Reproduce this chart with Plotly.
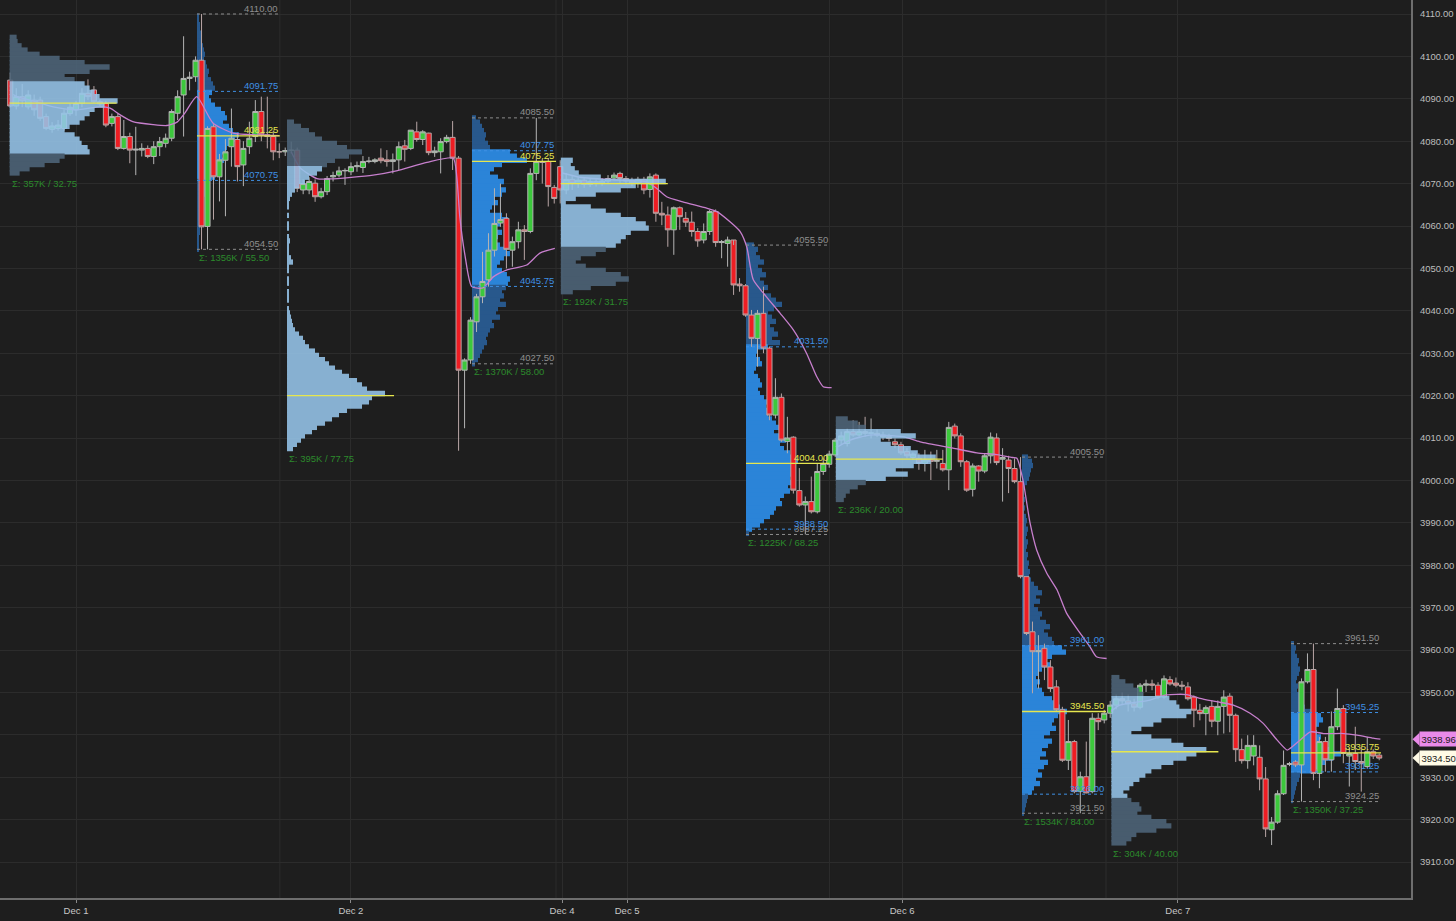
import plotly.graph_objects as go

# ---------------- price bars (30-minute bars, bar 0 = Dec 1 00:00) ----------------
first_bar = -11
opens = [4094.4, 4088.3, 4090.5, 4088.1, 4089.7, 4089.7, 4085.8, 4082.8, 4083.0, 4083.0, 4086.5,
         4087.4, 4088.9, 4091.3, 4092.1, 4089.3, 4088.9, 4084.2, 4085.8, 4078.3, 4081.1,
         4077.9, 4077.9, 4078.3, 4076.4, 4078.7, 4079.5, 4080.7, 4086.6, 4090.9, 4094.8,
         4095.2, 4099.1, 4059.9, 4083.4, 4071.6, 4075.5, 4078.7, 4080.4, 4074.4, 4078.7,
         4081.1, 4087.0, 4081.5, 4081.1, 4077.5, 4077.5, 4077.8, 4077.9, 4068.5, 4068.5,
         4070.1, 4066.9, 4068.1, 4071.6, 4072.0, 4073.0, 4072.8, 4074.0, 4073.8, 4075.2,
         4075.2, 4076.0, 4075.6, 4075.2, 4075.6, 4078.9, 4078.3, 4082.2, 4080.4, 4081.9,
         4077.3, 4077.5, 4079.9, 4080.9, 4076.0, 4026.0, 4028.4, 4037.4, 4043.3, 4047.3,
         4054.3, 4060.7, 4061.8, 4054.3, 4056.3, 4059.1, 4058.7, 4072.4, 4075.2, 4075.2,
         4069.1, 4074.0, 4068.5, 4071.0, 4070.0, 4070.8, 4069.8, 4070.5, 4070.0, 4070.6,
         4071.3, 4072.4, 4071.2, 4070.6, 4070.2, 4071.0, 4068.6, 4072.0, 4063.0, 4062.6,
         4059.1, 4064.3, 4061.8, 4060.9, 4058.7, 4056.7, 4058.7, 4063.4, 4056.1, 4055.9,
         4056.7, 4046.3, 4045.9, 4039.0, 4033.5, 4039.4, 4031.2, 4015.4, 4019.6, 4009.2,
         4010.2, 3997.6, 3994.2, 3995.0, 3992.6, 4002.1, 4003.8, 4006.0, 4009.5, 4008.7,
         4011.5, 4010.7, 4011.5, 4011.1, 4011.1, 4010.7, 4010.3, 4009.1, 4008.4, 4006.8,
         4005.4, 4005.2, 4004.0, 4004.8, 4004.5, 4004.0, 4002.5, 4012.8, 4010.5, 4004.4,
         3997.9, 4003.4, 4002.2, 4005.8, 4010.0, 4005.0, 4004.8, 4002.8, 3999.7, 3977.3,
         3964.3, 3959.6, 3960.4, 3956.0, 3951.3, 3945.9, 3934.0, 3938.4, 3926.6, 3930.1,
         3926.6, 3943.9, 3943.5, 3945.1, 3947.0, 3948.5, 3948.0, 3947.3, 3946.5, 3951.7,
         3952.0, 3951.7, 3948.9, 3953.0, 3952.2, 3951.7, 3951.3, 3948.9, 3945.8, 3945.0,
         3946.7, 3943.2, 3946.7, 3949.1, 3944.6, 3936.5, 3933.9, 3935.0, 3934.7, 3929.6,
         3917.6, 3919.4, 3926.1, 3933.0, 3933.6, 3932.9, 3952.5, 3955.4, 3930.9, 3938.4,
         3934.1, 3941.9, 3946.2, 3935.0, 3935.6, 3933.7, 3932.5, 3936.0, 3935.2]
highs = [4096.2, 4092.5, 4093.5, 4092.0, 4091.0, 4090.5, 4086.5, 4084.5, 4085.0, 4087.5, 4089.0,
         4089.5, 4092.5, 4094.6, 4093.0, 4089.8, 4089.5, 4086.5, 4086.5, 4085.0, 4082.0,
         4083.4, 4079.5, 4079.0, 4080.0, 4081.0, 4081.8, 4087.5, 4092.0, 4104.75, 4096.4,
         4100.0, 4110.0, 4083.5, 4084.0, 4077.0, 4080.5, 4087.7, 4082.0, 4080.0, 4084.6,
         4089.7, 4090.5, 4090.5, 4082.5, 4079.5, 4078.5, 4079.9, 4078.5, 4071.0, 4071.5,
         4071.0, 4069.0, 4071.8, 4072.8, 4074.0, 4073.6, 4075.0, 4075.2, 4076.5, 4076.3,
         4076.0, 4078.3, 4077.9, 4077.1, 4079.9, 4080.3, 4082.6, 4084.6, 4082.6, 4082.0,
         4078.7, 4080.7, 4081.5, 4084.75, 4076.5, 4028.8, 4038.5, 4044.0, 4053.9, 4058.3,
         4068.9, 4070.0, 4063.0, 4057.5, 4061.0, 4060.2, 4073.6, 4085.5, 4075.8, 4076.0,
         4069.7, 4075.5, 4072.5, 4072.0, 4071.5, 4071.5, 4071.2, 4071.0, 4071.3, 4072.0,
         4072.6, 4072.8, 4071.8, 4071.4, 4071.6, 4071.6, 4072.4, 4072.4, 4065.7, 4064.6,
         4064.6, 4064.6, 4063.3, 4063.4, 4059.5, 4060.6, 4063.8, 4063.9, 4056.7, 4057.5,
         4055.5, 4047.7, 4046.3, 4040.2, 4040.2, 4045.7, 4031.6, 4024.1, 4020.5, 4015.0,
         4010.4, 4002.9, 3996.2, 4000.9, 4004.0, 4005.2, 4007.0, 4010.0, 4011.5, 4012.3,
         4014.2, 4013.8, 4015.0, 4014.6, 4012.0, 4011.5, 4011.0, 4009.9, 4009.1, 4007.6,
         4006.6, 4006.4, 4007.2, 4006.8, 4007.2, 4007.2, 4013.8, 4013.4, 4011.1, 4004.8,
         4004.0, 4003.6, 4006.4, 4011.3, 4011.1, 4007.6, 4005.8, 4005.2, 4005.5, 3977.3,
         3966.7, 3963.5, 3961.5, 3957.6, 3952.9, 3946.6, 3943.5, 3938.8, 3931.3, 3938.4,
         3945.1, 3945.1, 3945.9, 3948.0, 3949.5, 3950.0, 3949.5, 3948.5, 3952.2, 3953.0,
         3953.0, 3952.4, 3954.0, 3953.8, 3953.5, 3952.7, 3952.4, 3949.3, 3947.3, 3946.9,
         3948.1, 3948.1, 3950.5, 3949.8, 3945.0, 3939.1, 3939.9, 3939.9, 3937.5, 3932.4,
         3920.6, 3926.9, 3936.3, 3933.6, 3934.0, 3953.3, 3959.2, 3961.5, 3939.5, 3939.5,
         3945.5, 3950.9, 3947.0, 3936.8, 3941.9, 3937.2, 3939.5, 3936.6, 3935.6]
lows = [4088.0, 4087.5, 4088.0, 4087.5, 4086.0, 4084.8, 4082.6, 4082.0, 4082.5, 4082.5, 4086.0,
        4086.0, 4088.0, 4089.7, 4089.0, 4088.3, 4083.3, 4083.5, 4077.9, 4078.0, 4074.8,
        4072.0, 4076.4, 4076.0, 4074.6, 4076.5, 4078.5, 4080.0, 4085.0, 4081.1, 4092.0,
        4094.0, 4054.5, 4054.5, 4061.5, 4065.8, 4062.3, 4074.0, 4070.5, 4069.4, 4077.0,
        4079.8, 4080.0, 4078.3, 4075.5, 4076.0, 4076.5, 4077.1, 4068.0, 4067.5, 4067.5,
        4065.7, 4066.5, 4067.3, 4070.5, 4071.5, 4069.7, 4072.0, 4072.8, 4072.5, 4074.8,
        4074.8, 4074.8, 4074.0, 4072.4, 4073.2, 4075.2, 4077.9, 4079.9, 4079.1, 4076.7,
        4076.3, 4072.4, 4079.5, 4073.2, 4007.0, 4012.3, 4027.5, 4035.0, 4041.8, 4045.7,
        4052.8, 4059.8, 4050.0, 4050.4, 4054.7, 4052.0, 4058.3, 4070.8, 4070.0, 4064.6,
        4065.3, 4065.3, 4067.5, 4068.5, 4069.0, 4069.0, 4069.2, 4069.3, 4069.5, 4070.0,
        4070.8, 4070.0, 4069.8, 4069.4, 4069.0, 4067.5, 4066.7, 4061.0, 4060.2, 4055.1,
        4053.2, 4059.1, 4059.8, 4057.5, 4055.1, 4055.9, 4057.9, 4055.1, 4052.4, 4050.4,
        4043.75, 4044.5, 4038.6, 4031.5, 4026.8, 4030.0, 4014.2, 4014.6, 4009.1, 4006.4,
        3996.9, 3993.8, 3987.25, 3992.2, 3992.2, 4001.3, 4003.0, 4005.5, 4008.5, 4008.0,
        4010.3, 4010.3, 4010.3, 4009.9, 4010.2, 4009.5, 4009.2, 4007.6, 4006.0, 4005.2,
        4004.8, 4002.5, 4002.1, 4000.1, 4002.8, 4002.1, 3997.7, 4009.9, 4003.2, 3997.3,
        3996.2, 3999.7, 4001.7, 4004.0, 4003.6, 3995.0, 3997.0, 3999.3, 3976.9, 3963.5,
        3949.8, 3950.9, 3952.9, 3950.1, 3945.5, 3933.6, 3931.7, 3926.2, 3921.5, 3926.2,
        3926.2, 3941.1, 3942.7, 3944.0, 3946.0, 3947.0, 3945.5, 3945.5, 3946.0, 3950.1,
        3950.5, 3948.4, 3948.5, 3951.6, 3951.2, 3950.5, 3948.1, 3941.8, 3943.4, 3939.9,
        3941.8, 3939.9, 3940.3, 3940.6, 3933.6, 3933.2, 3932.0, 3932.8, 3926.9, 3915.9,
        3914.0, 3919.0, 3925.8, 3932.6, 3932.4, 3924.25, 3952.1, 3929.3, 3927.4, 3931.3,
        3931.3, 3941.1, 3933.3, 3927.8, 3931.7, 3926.6, 3932.1, 3934.3, 3934.0]
closes = [4088.3, 4090.5, 4089.5, 4090.9, 4087.4, 4085.4, 4083.0, 4083.6, 4083.8, 4086.6, 4088.0,
          4088.9, 4091.3, 4090.5, 4089.3, 4088.8, 4083.8, 4085.8, 4078.3, 4081.1, 4077.9,
          4078.1, 4078.3, 4076.4, 4078.7, 4079.9, 4080.7, 4087.0, 4090.5, 4094.8, 4095.1,
          4099.1, 4059.8, 4083.0, 4071.6, 4075.6, 4077.5, 4080.7, 4074.0, 4078.3, 4080.7,
          4087.0, 4081.5, 4081.1, 4077.5, 4077.5, 4077.8, 4077.9, 4068.9, 4070.0, 4070.5,
          4066.9, 4068.1, 4071.2, 4071.9, 4073.0, 4073.1, 4074.0, 4074.2, 4075.2, 4075.3,
          4075.6, 4075.4, 4075.2, 4075.6, 4078.7, 4078.1, 4082.6, 4080.4, 4082.2, 4077.3,
          4077.7, 4079.9, 4080.9, 4076.0, 4026.0, 4028.4, 4037.8, 4043.3, 4046.9, 4054.3,
          4060.6, 4061.5, 4054.5, 4056.3, 4059.1, 4058.7, 4072.4, 4075.2, 4075.0, 4069.3,
          4066.5, 4068.5, 4071.0, 4070.0, 4070.8, 4069.8, 4070.5, 4070.0, 4070.6, 4071.2,
          4072.0, 4071.2, 4070.6, 4070.2, 4071.0, 4068.5, 4071.6, 4063.0, 4062.6, 4059.1,
          4064.3, 4062.2, 4060.9, 4058.7, 4056.5, 4058.7, 4063.4, 4056.1, 4056.3, 4056.7,
          4046.1, 4045.9, 4039.0, 4033.5, 4039.4, 4031.2, 4015.4, 4019.6, 4009.5, 4010.0,
          3997.7, 3994.2, 3995.0, 3992.6, 4002.1, 4004.0, 4006.2, 4009.5, 4010.5, 4011.5,
          4010.7, 4011.5, 4011.1, 4011.2, 4010.7, 4010.3, 4009.9, 4008.4, 4006.5, 4005.8,
          4006.2, 4004.0, 4004.8, 4004.5, 4004.7, 4002.5, 4012.5, 4010.5, 4004.4, 3997.7,
          4003.4, 4002.2, 4005.8, 4010.2, 4004.2, 4005.4, 4002.8, 3999.7, 3977.3, 3963.9,
          3959.6, 3959.8, 3956.0, 3950.9, 3945.9, 3934.0, 3938.4, 3926.6, 3930.1, 3926.3,
          3943.9, 3943.1, 3945.1, 3947.0, 3948.5, 3948.0, 3947.3, 3946.5, 3951.7, 3952.0,
          3951.7, 3948.9, 3953.2, 3952.0, 3951.7, 3951.5, 3948.5, 3945.8, 3945.0, 3946.4,
          3943.2, 3946.7, 3948.9, 3944.6, 3936.5, 3933.9, 3937.5, 3937.5, 3929.6, 3917.8,
          3919.4, 3926.1, 3932.8, 3933.2, 3932.9, 3952.5, 3955.4, 3930.9, 3938.4, 3934.1,
          3941.9, 3946.2, 3935.6, 3935.6, 3933.7, 3933.2, 3936.0, 3935.0, 3934.5]
bars = list(range(first_bar, first_bar + len(opens)))

# ---------------- session VWAP readings (bar position, value) ----------------
vwap1_x = [-10.5, -9.9, -7.2, -3.8, 0.1, 4.0, 5.7, 7.4, 9.5, 12.9, 15.2, 16.9, 18.2, 20.2, 22.9, 26.3, 32.0, 34.0]
vwap1_y = [4091.0, 4090.5, 4089.5, 4088.1, 4087.4, 4088.1, 4087.8, 4086.2, 4084.6, 4083.9, 4083.7,
           4084.5, 4086.6, 4090.5, 4084.3, 4081.9, 4081.4, 4081.3]
vwap2_x = [36.0, 37.5, 40.3, 42.5, 49.7, 53.6, 58.7, 63.1, 63.7, 64.2, 65.1, 66.2, 68.1, 69.8, 72.0, 75.4, 77.6, 80.1]
vwap2_y = [4077.5, 4073.7, 4071.2, 4071.1, 4072.0, 4073.0, 4075.0, 4076.0, 4071.6, 4062.2, 4052.8,
           4045.7, 4045.4, 4048.0, 4049.6, 4050.8, 4053.6, 4054.7]
vwap3_x = [81.3, 84.3, 91.0, 95.2, 97.1, 98.8, 101.5, 105.5, 107.2, 109.4, 111.1, 112.2, 113.3, 115.5,
           117.8, 120.0, 122.2, 123.9, 125.0, 126.4]
vwap3_y = [4072.5, 4071.5, 4070.8, 4070.5, 4068.9, 4066.9, 4065.7, 4064.2, 4063.4, 4061.0, 4058.7,
           4055.1, 4047.3, 4043.3, 4039.4, 4035.5, 4030.0, 4024.5, 4022.1, 4021.9]
vwap4_x = [127.5, 129.5, 132.8, 138.3, 141.2, 146.7, 150.7, 154.0, 156.7, 157.4, 158.4, 159.6, 160.7,
           162.4, 164.1, 165.7, 168.0, 169.6, 170.7, 172.4]
vwap4_y = [4008.0, 4009.5, 4010.7, 4010.3, 4009.1, 4007.6, 4006.5, 4006.1, 4005.4, 4005.2, 4000.1,
           3989.9, 3983.6, 3978.1, 3974.2, 3968.7, 3963.9, 3960.8, 3958.4, 3958.0]
vwap5_x = [173.1, 174.6, 179.7, 182.4, 185.8, 188.0, 190.8, 193.6, 196.4, 198.6, 200.9, 202.6, 203.1,
           204.8, 206.5, 208.7, 212.1, 214.3, 217.0, 218.2]
vwap5_y = [3945.5, 3947.0, 3948.2, 3949.4, 3949.5, 3948.6, 3947.8, 3947.0, 3945.1, 3942.7, 3938.8,
           3936.4, 3936.8, 3938.8, 3940.7, 3940.3, 3940.3, 3939.9, 3939.2, 3938.96]

# ---------------- volume profiles: 1-point rows, listed from the top row downward ----------------
# overnight (ETH) profiles
eth1_start, eth1_top = -11.1, 4104
eth1_vol = [7, 8, 12, 18, 30, 50, 75, 100, 80, 55, 65, 75, 80, 85, 90, 108, 95, 85, 80, 75, 70, 60, 55,
            65, 70, 72, 78, 80, 55, 50, 35, 20, 10]
eth1_va, eth1_poc, eth1_text = (4077.0, 4094.3), 4089.0, "Σ: 357K / 32.75"

eth2_start, eth2_top = 35.3, 4084
eth2_vol = [7, 14, 22, 28, 35, 50, 60, 75, 62, 48, 40, 35, 30, 22, 18, 12, 8, 5, 3, 2, 1, 0, 2, 0, 1, 2,
            0, 1, 3, 1, 2, 1, 4, 6, 2, 1, 0, 1, 2, 0, 1, 2, 1, 0, 2, 3, 4, 5, 6, 8, 12, 16, 18, 22, 28,
            32, 38, 42, 48, 55, 62, 70, 75, 80, 98, 85, 82, 75, 60, 52, 45, 38, 30, 25, 18, 14, 10, 6]
eth2_va, eth2_poc, eth2_text = (4007.0, 4073.6), 4020.0, "Σ: 395K / 77.75"

eth3_start, eth3_top = 81.1, 4075
eth3_vol = [12, 10, 14, 18, 40, 105, 75, 60, 35, 15, 5, 30, 45, 60, 75, 85, 88, 70, 65, 60, 55, 45, 35,
            20, 15, 25, 45, 60, 68, 55, 30, 12]
eth3_va, eth3_poc, eth3_text = (4055.1, 4075.5), 4070.0, "Σ: 192K / 31.75"

eth4_start, eth4_top = 127.1, 4014
eth4_vol = [12, 22, 30, 65, 80, 45, 55, 75, 82, 100, 95, 78, 60, 72, 50, 30, 22, 14, 10, 8]
eth4_va, eth4_poc, eth4_text = (4000.0, 4012.0), 4005.0, "Σ: 236K / 20.00"

eth5_start, eth5_top = 173.2, 3953
eth5_vol = [8, 14, 22, 28, 32, 58, 65, 68, 80, 75, 50, 42, 30, 20, 40, 60, 72, 95, 85, 75, 62, 50, 40,
            34, 28, 22, 18, 12, 16, 20, 28, 30, 26, 40, 55, 60, 45, 25, 20, 15]
eth5_va, eth5_poc, eth5_text = (3925.4, 3949.0), 3936.0, "Σ: 304K / 40.00"

# regular-session (RTH) profiles: start bar, end bar, top row, volumes, levels (high, low, VAH, VAL, POC)
rth1_start, rth1_end, rth1_top = 20.24, 34.1, 4109
rth1_vol = [2, 2, 3, 3, 4, 5, 5, 6, 7, 8, 7, 9, 10, 12, 11, 14, 16, 18, 15, 12, 14, 18, 24, 28, 30, 26,
            32, 36, 42, 38, 33, 30, 28, 25, 27, 24, 22, 20, 18, 12, 10, 9, 8, 7, 6, 5, 5, 4, 4, 3, 3,
            3, 2, 2, 2, 2]
rth1_levels, rth1_text = (4110.00, 4054.50, 4091.75, 4070.75, 4081.25), "Σ: 1356K / 55.50"

rth2_start, rth2_end, rth2_top = 66.24, 80.3, 4085
rth2_vol = [4, 8, 10, 12, 14, 13, 16, 18, 38, 45, 55, 30, 22, 18, 26, 32, 28, 34, 30, 22, 26, 20, 18,
            30, 36, 28, 24, 30, 26, 22, 28, 34, 38, 32, 28, 25, 30, 35, 38, 36, 34, 30, 32, 28, 34,
            26, 24, 28, 20, 22, 18, 16, 14, 15, 12, 10, 8, 6, 3]
rth2_levels, rth2_text = (4085.50, 4027.50, 4077.75, 4045.75, 4075.25), "Σ: 1370K / 58.00"

rth3_start, rth3_end, rth3_top = 112.08, 126.05, 4055
rth3_vol = [8, 12, 10, 14, 18, 12, 16, 20, 14, 18, 22, 16, 25, 30, 36, 28, 22, 26, 30, 24, 28, 32, 26,
            34, 22, 12, 10, 14, 16, 10, 8, 12, 14, 16, 12, 14, 18, 22, 20, 24, 22, 26, 30, 34, 28, 36,
            40, 34, 38, 44, 46, 52, 50, 46, 48, 44, 46, 42, 44, 38, 34, 36, 30, 28, 24, 18, 14, 6, 3]
rth3_levels, rth3_text = (4055.50, 3987.25, 4031.50, 3988.50, 4004.00), "Σ: 1225K / 68.25"

rth4_start, rth4_end, rth4_top = 158.25, 172.3, 4005
rth4_vol = [6, 10, 11, 9, 8, 7, 5, 3, 2, 2, 3, 2, 3, 2, 4, 5, 4, 6, 5, 4, 6, 5, 4, 6, 5, 7, 6, 8, 7, 9,
            12, 16, 20, 14, 18, 12, 16, 20, 18, 24, 28, 22, 26, 30, 32, 40, 44, 30, 24, 28, 20, 16, 14,
            18, 15, 20, 22, 30, 34, 38, 45, 36, 32, 30, 34, 28, 22, 30, 26, 20, 24, 18, 26, 22, 16, 20,
            14, 18, 12, 10, 6, 5, 4, 3, 2]
rth4_levels, rth4_text = (4005.50, 3921.50, 3961.00, 3926.00, 3945.50), "Σ: 1534K / 84.00"

rth5_start, rth5_end, rth5_top = 203.25, 218.3, 3961
rth5_vol = [3, 5, 4, 6, 8, 7, 9, 8, 6, 5, 7, 6, 8, 10, 12, 14, 25, 30, 32, 28, 24, 26, 30, 28, 34, 40,
            50, 42, 35, 28, 22, 9, 8, 6, 5, 4, 3, 2]
rth5_levels, rth5_text = (3961.50, 3924.25, 3945.25, 3931.25, 3935.75), "Σ: 1350K / 37.25"

# ---------------- axis labels ----------------
date_ticks = [0, 46.0, 81.3, 92.2, 138.2, 184.3]
date_labels = ["Dec 1", "Dec 2", "Dec 4", "Dec 5", "Dec 6", "Dec 7"]
session_breaks = [rth1_end, rth2_end, rth3_end, rth4_end]
price_ticks = list(range(3910, 4111, 10))
last_vwap = vwap5_y[-1]
last_close = closes[-1]

# ---------------- styling ----------------
BG = "#1e1e1e"
GRID = "#2c2c2c"
FONT = "Arial, Liberation Sans, sans-serif"
PX_PER_BAR = 5.978
VOL_TO_BARS = 1.0 / PX_PER_BAR
ETH_POC_LEN = 107 / PX_PER_BAR
ROW_H = 1.25
X_RANGE = [-76 / PX_PER_BAR, (1411 - 76) / PX_PER_BAR]
Y_RANGE = [4110 - 884 / 4.24, 4110 + 14 / 4.24]
ETH_IN, ETH_OUT = "rgb(150,197,234)", "rgb(78,101,122)"
RTH_IN, RTH_OUT = "#2b84d8", "#28588c"
POC_COL = "#e6e64e"
HL_COL = "#8e8e8e"
VA_COL = "#3f90e4"
SUM_COL = "#2c8a2c"
VWAP_COL = "#c77fcd"

fig = go.Figure()

# RTH profiles (beneath the candles)
rth_profiles = [
    (rth1_start, rth1_end, rth1_top, rth1_vol, rth1_levels, rth1_text),
    (rth2_start, rth2_end, rth2_top, rth2_vol, rth2_levels, rth2_text),
    (rth3_start, rth3_end, rth3_top, rth3_vol, rth3_levels, rth3_text),
    (rth4_start, rth4_end, rth4_top, rth4_vol, rth4_levels, rth4_text),
    (rth5_start, rth5_end, rth5_top, rth5_vol, rth5_levels, rth5_text),
]
for start, end, top, vol, lv, txt in rth_profiles:
    hi, lo, vah, val, poc = lv
    centers = [top - i + 0.5 for i in range(len(vol))]
    cols = [RTH_IN if val <= c <= vah else RTH_OUT for c in centers]
    fig.add_trace(go.Bar(orientation="h", y=centers, x=[v * VOL_TO_BARS for v in vol], base=start,
                         width=ROW_H, marker=dict(color=cols, line=dict(width=0)),
                         showlegend=False, hoverinfo="skip"))

# candles
fig.add_trace(go.Candlestick(
    x=bars, open=opens, high=highs, low=lows, close=closes,
    increasing=dict(fillcolor="#3cc83c", line=dict(color="#b4b4b4", width=1)),
    decreasing=dict(fillcolor="#ee1d23", line=dict(color="#b9a6a6", width=1)),
    showlegend=False, hoverinfo="skip"))

# VWAP segments
for vx, vy in [(vwap1_x, vwap1_y), (vwap2_x, vwap2_y), (vwap3_x, vwap3_y), (vwap4_x, vwap4_y), (vwap5_x, vwap5_y)]:
    fig.add_trace(go.Scatter(x=vx, y=vy, mode="lines",
                             line=dict(color=VWAP_COL, width=1.3, shape="spline", smoothing=0.6),
                             showlegend=False, hoverinfo="skip"))

# ETH profiles on an overlaid copy of the axes (drawn over the candles, semi-transparent)
eth_profiles = [
    (eth1_start, eth1_top, eth1_vol, eth1_va, eth1_poc, eth1_text),
    (eth2_start, eth2_top, eth2_vol, eth2_va, eth2_poc, eth2_text),
    (eth3_start, eth3_top, eth3_vol, eth3_va, eth3_poc, eth3_text),
    (eth4_start, eth4_top, eth4_vol, eth4_va, eth4_poc, eth4_text),
    (eth5_start, eth5_top, eth5_vol, eth5_va, eth5_poc, eth5_text),
]
for start, top, vol, va, poc, txt in eth_profiles:
    centers = [top - i + 0.5 for i in range(len(vol))]
    cols = [ETH_IN if va[0] <= c <= va[1] else ETH_OUT for c in centers]
    fig.add_trace(go.Bar(orientation="h", y=centers, x=[v * VOL_TO_BARS for v in vol], base=start,
                         width=ROW_H, marker=dict(color=cols, line=dict(width=0)), opacity=0.88,
                         xaxis="x2", yaxis="y2", showlegend=False, hoverinfo="skip"))

shapes = []
annotations = []

# session break lines
for xb in session_breaks:
    shapes.append(dict(type="line", xref="x", yref="paper", x0=xb, x1=xb, y0=0, y1=1,
                       line=dict(color=GRID, width=1), layer="below"))

# RTH level lines and labels
for start, end, top, vol, lv, txt in rth_profiles:
    hi, lo, vah, val, poc = lv
    for level, col, dash in [(hi, HL_COL, "dot"), (lo, HL_COL, "dot"), (vah, VA_COL, "dot"),
                             (val, VA_COL, "dot"), (poc, POC_COL, "solid")]:
        shapes.append(dict(type="line", xref="x", yref="y", x0=start, x1=end, y0=level, y1=level,
                           line=dict(color=col, width=1.3 if dash == "solid" else 1, dash=dash),
                           layer="above"))
        annotations.append(dict(x=end, y=level, xref="x", yref="y", text=f"{level:.2f}",
                                showarrow=False, xanchor="right", yanchor="middle", yshift=6,
                                font=dict(color=col, size=9.5, family=FONT)))
    annotations.append(dict(x=start, y=lo, xref="x", yref="y", text=txt, showarrow=False,
                            xanchor="left", yanchor="middle", yshift=-8,
                            font=dict(color=SUM_COL, size=9.5, family=FONT)))

# ETH POC lines and totals
for start, top, vol, va, poc, txt in eth_profiles:
    shapes.append(dict(type="line", xref="x", yref="y", x0=start, x1=start + ETH_POC_LEN,
                       y0=poc, y1=poc, line=dict(color=POC_COL, width=1.3), layer="above"))
    low = top - len(vol) + 1
    annotations.append(dict(x=start, y=low, xref="x", yref="y", text=txt, showarrow=False,
                            xanchor="left", yanchor="middle", yshift=-8,
                            font=dict(color=SUM_COL, size=9.5, family=FONT)))

# price tags on the right axis
yspan = Y_RANGE[1] - Y_RANGE[0]
plot_w, plot_h = 1411.0, 898.0
for price, bg in [(last_vwap, "#e98ae9"), (last_close, "#fffbe6")]:
    annotations.append(dict(x=1, y=price, xref="paper", yref="y", text=f"{price:.2f}",
                            showarrow=False, xanchor="left", yanchor="middle", xshift=8,
                            bgcolor=bg, borderpad=1.5,
                            font=dict(color="#1a1a1a", size=9.5, family=FONT)))
    yp = (price - Y_RANGE[0]) / yspan
    hh = 6.5 / plot_h
    tip = 1 + 1.5 / plot_w
    base = 1 + 8.5 / plot_w
    shapes.append(dict(type="path", xref="paper", yref="paper",
                       path=f"M {tip} {yp} L {base} {yp + hh} L {base} {yp - hh} Z",
                       fillcolor=bg, line=dict(width=0), layer="above"))

fig.update_layout(
    width=1456, height=921,
    margin=dict(l=0, r=45, t=0, b=23, pad=0),
    paper_bgcolor=BG, plot_bgcolor=BG,
    barmode="overlay", boxgap=0.15, boxgroupgap=0,
    showlegend=False, hovermode=False,
    font=dict(family=FONT, color="#bdbdbd"),
    xaxis=dict(range=X_RANGE, tickvals=date_ticks, ticktext=date_labels, showgrid=True,
               gridcolor=GRID, gridwidth=1, zeroline=False, showline=True, linecolor="#6e6e6e",
               linewidth=2, ticks="outside", ticklen=3, tickcolor="#8a8a8a",
               tickfont=dict(size=9.5, color="#c8c8c8", family=FONT),
               rangeslider=dict(visible=False), automargin=False, fixedrange=True),
    yaxis=dict(range=Y_RANGE, side="right", tickvals=price_ticks,
               ticktext=[f"{p:.2f}" for p in price_ticks], showgrid=True, gridcolor=GRID,
               zeroline=False, showline=True, linecolor="#6e6e6e", linewidth=2, ticks="",
               tickfont=dict(size=9.5, color="#bdbdbd", family=FONT), automargin=False,
               ticklabelstandoff=5, fixedrange=True),
    xaxis2=dict(range=X_RANGE, overlaying="x", anchor="y2", visible=False, fixedrange=True),
    yaxis2=dict(range=Y_RANGE, overlaying="y", anchor="x2", visible=False, fixedrange=True),
    shapes=shapes, annotations=annotations,
)

fig.write_html("out.html", config={"displayModeBar": False},
               post_script="document.body.style.margin='0';document.body.style.background='#1e1e1e';")
